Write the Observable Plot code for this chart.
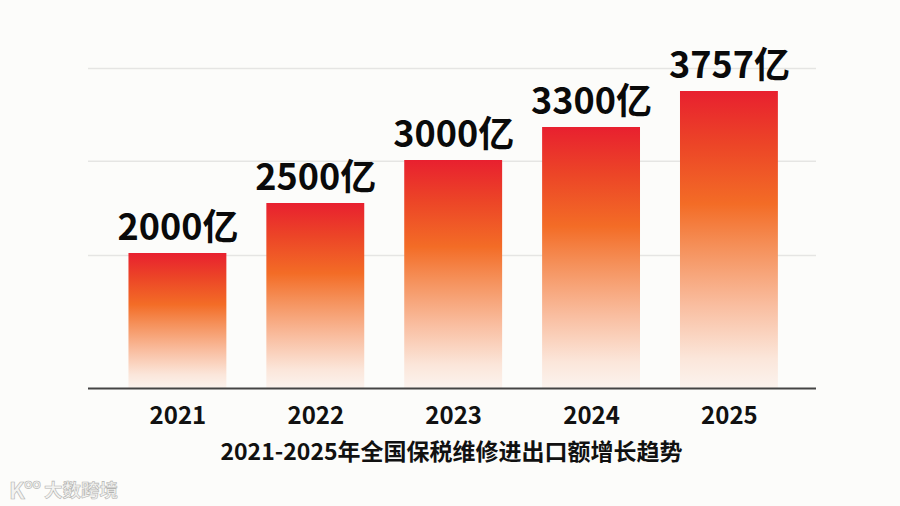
<!DOCTYPE html>
<html><head><meta charset="utf-8">
<script src="https://cdn.jsdelivr.net/npm/d3@7"></script>
<script src="https://cdn.jsdelivr.net/npm/@observablehq/plot@0.6"></script>
<style>
html,body{margin:0;padding:0;width:900px;height:506px;overflow:hidden;background:#fcfcfa}
body{position:relative;font-family:"Noto Sans CJK SC","Noto Sans",sans-serif}
#chart svg{display:block;background:transparent}
#title{position:absolute;left:0;width:903px;top:436px;text-align:center;font-size:23px;font-weight:700;color:#111;line-height:28px;white-space:nowrap}
#logo,#brand{position:absolute;font-weight:700;color:#f3f3f1;-webkit-text-stroke:0.6px #b4b4b2;line-height:26px;white-space:nowrap}
#logo{left:9px;top:476px;font-size:23px;letter-spacing:-1px}
#brand{left:44px;top:476px;font-size:18.5px}
</style></head><body>
<div id="chart"></div>
<div id="title">2021-2025年全国保税维修进出口额增长趋势</div>
<div id="logo">K°°</div>
<div id="brand">大数跨境</div>
<script>
const years = ["2021","2022","2023","2024","2025"];
const values = [2000,2500,3000,3300,3757];
const unit = "亿";
const gridValues = [1970,2990,4000];
const baseline = 0;
// The source chart is not drawn proportionally: breakpoints of its y axis.
const yDomain = [0,2000,2500,3000,3300,3757,4000];
const yRange  = [388,253,203,160,127,91,68];
const gradientStops = [[0,"#e8202f"],[0.18,"#ec4527"],[0.38,"#f36c26"],[0.52,"#f58f58"],[0.72,"#f9bd9f"],[0.9,"#fbe6da"],[1,"#fbf3ee"]];

const data = years.map((year,i)=>({year,value:values[i]}));
const defs = () => {
  const ns="http://www.w3.org/2000/svg";
  const d=document.createElementNS(ns,"defs");
  const g=document.createElementNS(ns,"linearGradient");
  g.setAttribute("id","barFill");g.setAttribute("x1",0);g.setAttribute("y1",0);g.setAttribute("x2",0);g.setAttribute("y2",1);
  gradientStops.forEach(([o,c])=>{const s=document.createElementNS(ns,"stop");s.setAttribute("offset",o);s.setAttribute("stop-color",c);g.appendChild(s);});
  d.appendChild(g);return d;
};
const plot = Plot.plot({
  width:900,height:436,
  marginLeft:88,marginRight:84,marginTop:40,marginBottom:48,
  style:{background:"transparent",fontFamily:'"Noto Sans CJK SC","Noto Sans",sans-serif'},
  x:{domain:years,round:false,align:0.515,paddingInner:0.29,paddingOuter:0.285,label:null},
  y:{type:"linear",domain:yDomain,range:yRange,axis:null},
  marks:[
    defs,
    Plot.ruleY(gridValues,{stroke:"#e5e5e3",strokeWidth:1.5}),
    Plot.barY(data,{x:"year",y1:baseline,y2:"value",fill:"url(#barFill)"}),
    Plot.ruleY([baseline],{stroke:"#444",strokeWidth:2}),
    Plot.text(data,{x:"year",y:"value",text:d=>d.value+unit,dy:-25,fontSize:36,fontWeight:700,fill:"#0a0a0a"}),
    Plot.axisX({tickSize:0,tickPadding:18,fontSize:24,fontWeight:700,color:"#111",label:null})
  ]
});
document.getElementById("chart").appendChild(plot);
</script>
</body></html>
